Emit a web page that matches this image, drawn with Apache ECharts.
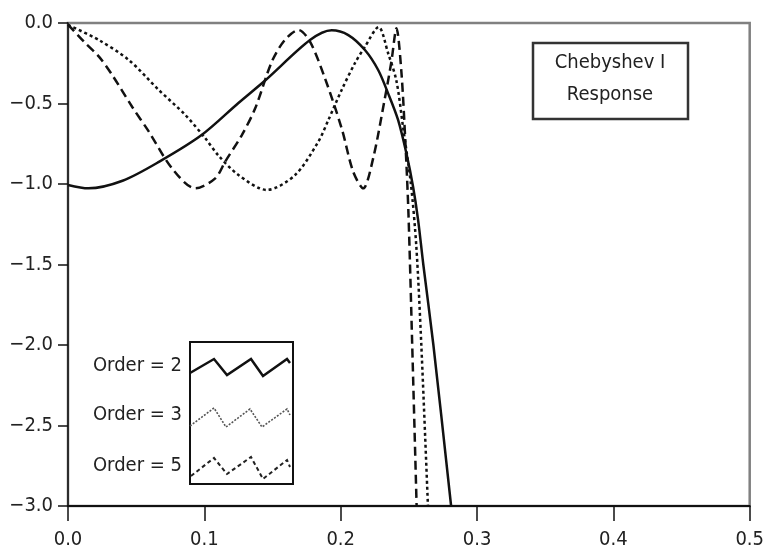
<!DOCTYPE html>
<html>
<head>
<meta charset="utf-8">
<script src="https://cdn.jsdelivr.net/npm/echarts@6/dist/echarts.min.js"></script>
<style>
html,body{margin:0;padding:0;background:#fff;}
#chart{width:767px;height:559px;}
</style>
</head>
<body>
<div id="chart"></div>
<script>
// ---- data ----
const xTicks = [0.0, 0.1, 0.2, 0.3, 0.4, 0.5];
const yTicks = [0.0, -0.5, -1.0, -1.5, -2.0, -2.5, -3.0];
const seriesNames = ['Order = 2', 'Order = 3', 'Order = 5'];

const order2X = [0, 0.015, 0.04, 0.067, 0.098, 0.125, 0.145, 0.1775, 0.1934, 0.2056, 0.2178, 0.2275, 0.2348, 0.2421, 0.2482, 0.2531, 0.2568, 0.2606, 0.268, 0.281];
const order2Y = [-1.006, -1.027, -0.98, -0.861, -0.696, -0.497, -0.354, -0.106, -0.045, -0.075, -0.168, -0.292, -0.437, -0.602, -0.809, -1.017, -1.224, -1.5, -2.0, -3.0];

const order3X = [0, 0.0227, 0.0446, 0.0666, 0.086, 0.1007, 0.110, 0.125, 0.1458, 0.1666, 0.1836, 0.191, 0.2007, 0.2104, 0.2178, 0.2278, 0.2348, 0.2409, 0.2458, 0.2515, 0.2555, 0.2592, 0.264];
const order3Y = [-0.012, -0.106, -0.23, -0.416, -0.571, -0.716, -0.82, -0.944, -1.037, -0.944, -0.737, -0.602, -0.416, -0.25, -0.147, -0.025, -0.188, -0.36, -0.65, -1.0, -1.39, -2.01, -3.0];

const order5X = [0, 0.0117, 0.0227, 0.0324, 0.047, 0.0593, 0.0763, 0.0934, 0.108, 0.1153, 0.1275, 0.1373, 0.1495, 0.159, 0.169, 0.1775, 0.1885, 0.2007, 0.2092, 0.2165, 0.2238, 0.2324, 0.2372, 0.2409, 0.2445, 0.2475, 0.2497, 0.2525, 0.2557];
const order5Y = [-0.01, -0.116, -0.209, -0.323, -0.52, -0.675, -0.903, -1.027, -0.965, -0.861, -0.696, -0.53, -0.24, -0.106, -0.0435, -0.116, -0.344, -0.654, -0.924, -1.027, -0.841, -0.468, -0.24, -0.033, -0.3, -0.75, -1.18, -2.01, -3.0];

const titleLines = ['Chebyshev I', 'Response'];

// ---- chart ----
const FONT = '"Liberation Sans Narrow", "DejaVu Sans Condensed", "Arial Narrow", "Liberation Sans", sans-serif';
const FS = 20;
const pairs = (xs, ys) => xs.map((x, i) => [x, ys[i]]);
const fmt = v => v.toFixed(1).replace('-', '\u2212');

const chart = echarts.init(document.getElementById('chart'), null, {renderer: 'canvas'});

const legendStyles = [
  {stroke: '#111', lineWidth: 2.5, lineDash: null},
  {stroke: '#555', lineWidth: 1.6, lineDash: [2, 1.5]},
  {stroke: '#222', lineWidth: 2, lineDash: [4, 3]}
];
const legendIcons = [
  [[190,373],[214,359],[227,375],[251,359],[263,376],[287,359],[290,363]],
  [[190,426],[214,408],[226,427],[250,409],[262,427],[287,409],[290,415]],
  [[191,476],[214,458],[227,474],[251,457],[263,479],[287,460],[290,467]]
];
const legendTextY = [366, 415, 466];

const graphic = [
  {type: 'rect', shape: {x: 533, y: 43, width: 155, height: 76}, style: {fill: '#fff', stroke: '#333', lineWidth: 2.5}, z: 10},
  {type: 'text', x: 610, y: 63, style: {text: titleLines[0], font: FS + 'px ' + FONT, fill: '#222', align: 'center', verticalAlign: 'middle'}, z: 11},
  {type: 'text', x: 610, y: 95, style: {text: titleLines[1], font: FS + 'px ' + FONT, fill: '#222', align: 'center', verticalAlign: 'middle'}, z: 11},
  {type: 'rect', shape: {x: 190, y: 342, width: 103, height: 142}, style: {fill: '#fff', stroke: '#111', lineWidth: 2}, z: 10}
];
seriesNames.forEach((name, i) => {
  graphic.push({type: 'polyline', shape: {points: legendIcons[i]}, style: Object.assign({fill: null}, legendStyles[i]), z: 11});
  graphic.push({type: 'text', x: 182, y: legendTextY[i], style: {text: name, font: FS + 'px ' + FONT, fill: '#222', align: 'right', verticalAlign: 'middle'}, z: 11});
});

const lineStyles = [
  {color: '#111', width: 2.5, type: 'solid'},
  {color: '#111', width: 2.5, type: [3, 3]},
  {color: '#111', width: 2.5, type: [9, 5]}
];
const dataSets = [pairs(order2X, order2Y), pairs(order3X, order3Y), pairs(order5X, order5Y)];

chart.setOption({
  animation: false,
  backgroundColor: '#fff',
  grid: {left: 68, right: 15, top: 23, bottom: 53, show: true, borderColor: '#808080', borderWidth: 2.5, backgroundColor: 'transparent'},
  xAxis: {
    type: 'value', min: xTicks[0], max: xTicks[xTicks.length - 1], interval: 0.1,
    axisLine: {show: true, onZero: false, lineStyle: {color: '#111', width: 2}},
    axisTick: {show: true, length: 15, inside: false, lineStyle: {color: '#111', width: 1.5}},
    axisLabel: {margin: 24, fontSize: FS, fontFamily: FONT, color: '#222', formatter: v => fmt(v)},
    splitLine: {show: false}
  },
  yAxis: {
    type: 'value', min: yTicks[yTicks.length - 1], max: yTicks[0], interval: 0.5,
    axisLine: {show: true, onZero: false, lineStyle: {color: '#111', width: 1.5}},
    axisTick: {show: true, length: 10, inside: false, lineStyle: {color: '#111', width: 1.5}},
    axisLabel: {margin: 15, fontSize: FS, fontFamily: FONT, color: '#222', formatter: v => fmt(v)},
    splitLine: {show: false}
  },
  series: seriesNames.map((name, i) => ({
    name: name, type: 'line', data: dataSets[i], smooth: 0.3, showSymbol: false, symbol: 'none',
    clip: true, lineStyle: lineStyles[i], z: 3
  })),
  graphic: graphic
});
</script>
</body>
</html>
